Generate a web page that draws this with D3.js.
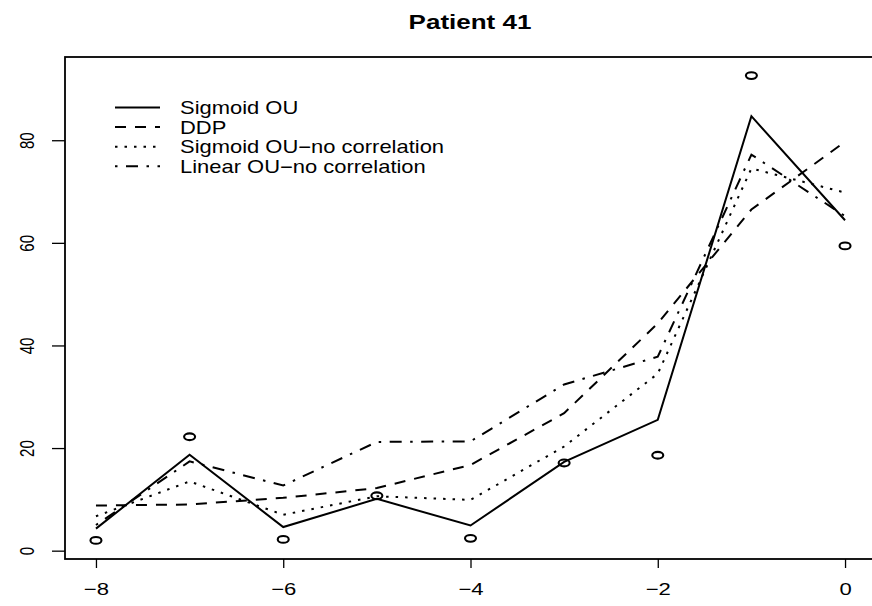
<!DOCTYPE html>
<html>
<head>
<meta charset="utf-8">
<script src="https://cdn.jsdelivr.net/npm/d3@7"></script>
<style>
  body { margin: 0; background: #fff; }
  text { font-family: "Liberation Sans", Arial, sans-serif; fill: #000; }
</style>
</head>
<body>
<script>
document.addEventListener("DOMContentLoaded", () => {
  // time points (years before last visit)
  const timePoints = [-8, -7, -6, -5, -4, -3, -2, -1, 0];

  // observed values (open circles)
  const observed = [2.0, 22.2, 2.2, 10.7, 2.4, 17.1, 18.6, 92.6, 59.4];

  // fitted curves
  const sigmoidOU = [4.3, 18.7, 4.6, 10.1, 4.9, 17.3, 25.5, 84.7, 64.4];
  const ddp = [8.8, 9.0, 10.3, 12.2, 16.7, 26.8, 44.3, 66.5, 79.7];
  const sigmoidNoCorr = [6.7, 13.5, 7.0, 10.6, 9.9, 20.3, 34.5, 74.5, 69.8];
  const linearNoCorr = [5.0, 17.4, 12.7, 21.2, 21.3, 32.4, 37.8, 77.2, 65.2];

  const seriesNames = [
    "Sigmoid OU",
    "DDP",
    "Sigmoid OU\u2212no correlation",
    "Linear OU\u2212no correlation"
  ];

  const xTicks = [-8, -6, -4, -2, 0];
  const yTicks = [0, 20, 40, 60, 80];

  // R line types: solid, dashed, dotted, dotdash
  const dashes = [null, "11,9", "2.5,7", "2.5,8.5,12,8.5"];

  const series = [sigmoidOU, ddp, sigmoidNoCorr, linearNoCorr].map((vals, i) => ({
    name: seriesNames[i],
    dash: dashes[i],
    points: vals.map((v, j) => ({ t: timePoints[j], v: v }))
  }));

  var width = 872;
  var height = 606;

  var svg = d3
    .select("body")
    .append("svg")
    .attr("width", width)
    .attr("height", height);

  var box = { left: 65, right: 875, top: 57, bottom: 559 };

  // R style 4% padding on both axes
  var allY = observed.concat(sigmoidOU, ddp, sigmoidNoCorr, linearNoCorr);
  var yMin = d3.min(allY), yMax = d3.max(allY);
  var yPad = (yMax - yMin) * 0.04;
  var xPad = (d3.max(timePoints) - d3.min(timePoints)) * 0.04;

  var x = d3
    .scaleLinear()
    .domain([d3.min(timePoints) - xPad, d3.max(timePoints) + xPad])
    .range([box.left + 1, box.right]);

  var y = d3
    .scaleLinear()
    .domain([yMin - yPad, yMax + yPad])
    .range([box.bottom, box.top]);

  // Title
  svg
    .append("text")
    .attr("transform", "translate(470,29) scale(1.3,1)")
    .attr("text-anchor", "middle")
    .attr("font-size", "20px")
    .attr("font-weight", "bold")
    .text("Patient 41");

  // Axes
  var xAxis = svg
    .append("g")
    .attr("transform", `translate(0,${box.bottom})`)
    .call(d3.axisBottom(x).tickValues(xTicks).tickSize(9).tickFormat(d3.format("d")));

  xAxis.select(".domain").remove();
  xAxis.selectAll("line").attr("stroke", "#000").attr("stroke-width", 1.3);
  xAxis
    .selectAll("text")
    .attr("y", null)
    .attr("dy", null)
    .attr("transform", "translate(0,36) scale(1.3,1)")
    .attr("font-size", "17px")
    .attr("fill", "#000");

  var yAxis = svg
    .append("g")
    .attr("transform", `translate(${box.left},0)`)
    .call(d3.axisLeft(y).tickValues(yTicks).tickSize(13).tickFormat(d3.format("d")));

  yAxis.select(".domain").remove();
  yAxis.selectAll("line").attr("stroke", "#000").attr("stroke-width", 1.3);
  yAxis
    .selectAll("text")
    .attr("x", null)
    .attr("dy", null)
    .attr("text-anchor", "middle")
    .attr("transform", "translate(-31,0) scale(1.3,1) rotate(-90)")
    .attr("font-size", "15px")
    .attr("fill", "#000");

  // Plot box
  svg
    .append("rect")
    .attr("x", box.left)
    .attr("y", box.top)
    .attr("width", box.right - box.left)
    .attr("height", box.bottom - box.top)
    .attr("fill", "none")
    .attr("stroke", "#000")
    .attr("stroke-width", 1.8);

  var line = d3
    .line()
    .x((d) => x(d.t))
    .y((d) => y(d.v));

  svg
    .selectAll(".fit")
    .data(series)
    .enter()
    .append("path")
    .attr("class", "fit")
    .attr("d", (d) => line(d.points))
    .attr("fill", "none")
    .attr("stroke", "#000")
    .attr("stroke-width", 2)
    .attr("stroke-dasharray", (d) => d.dash);

  // observed points
  svg
    .selectAll(".obs")
    .data(observed)
    .enter()
    .append("ellipse")
    .attr("class", "obs")
    .attr("cx", (d, i) => x(timePoints[i]))
    .attr("cy", (d) => y(d))
    .attr("rx", 5.5)
    .attr("ry", 3.4)
    .attr("fill", "none")
    .attr("stroke", "#000")
    .attr("stroke-width", 2.1);

  // Legend
  var legend = svg
    .selectAll(".legend")
    .data(series)
    .enter()
    .append("g")
    .attr("class", "legend")
    .attr("transform", (d, i) => `translate(115,${107.5 + i * 19.6})`);

  legend
    .append("line")
    .attr("x1", 0)
    .attr("x2", 45)
    .attr("stroke", "#000")
    .attr("stroke-width", 2)
    .attr("stroke-dasharray", (d) => d.dash);

  legend
    .append("text")
    .attr("transform", "translate(65,6.5) scale(1.22,1)")
    .attr("font-size", "18px")
    .text((d) => d.name);
});
</script>
</body>
</html>
